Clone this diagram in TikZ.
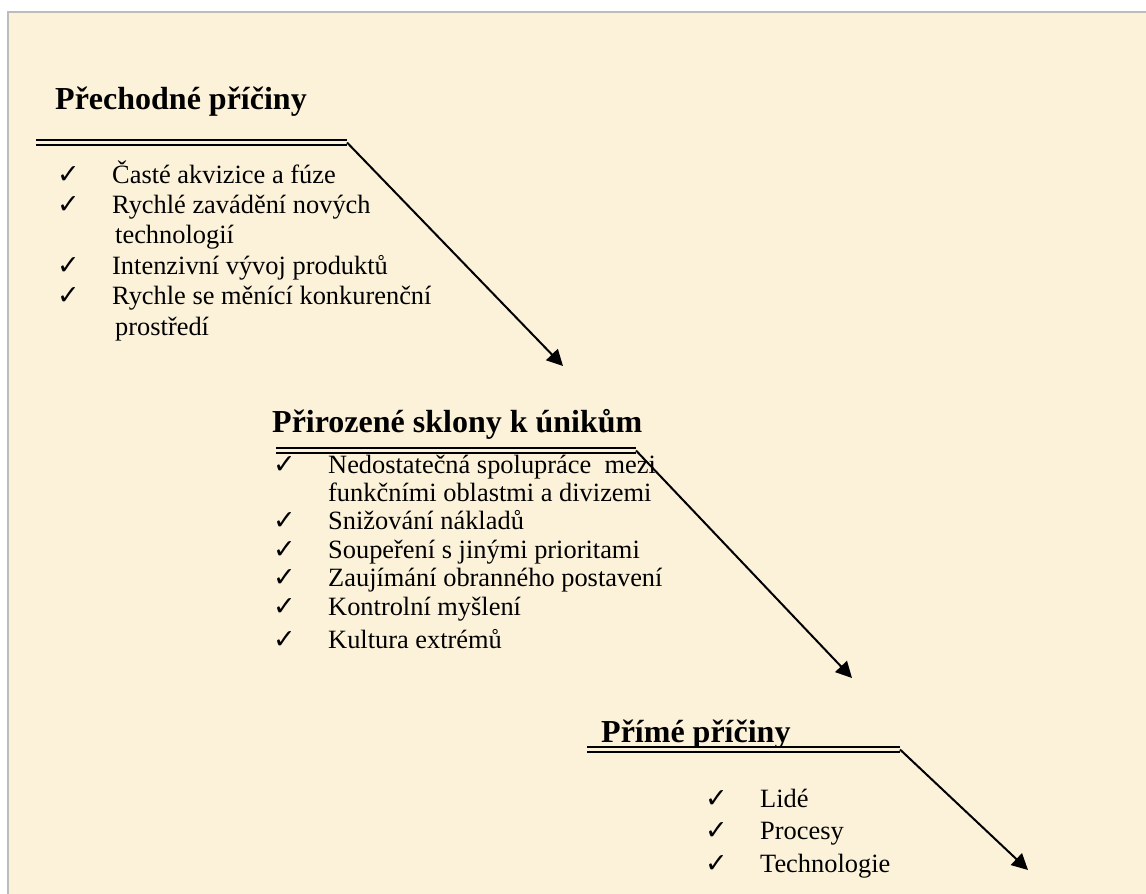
\documentclass[tikz,border=0pt]{standalone}
\usepackage{fontspec}
\setmainfont{Liberation Serif}
\newfontfamily\symfont{DejaVu Sans}
\usetikzlibrary{arrows.meta}
\definecolor{parchment}{RGB}{252,242,218}
\definecolor{framegray}{RGB}{188,188,188}
\newcommand{\chk}{{\symfont\fontsize{27}{27}\selectfont ✓}}

\begin{document}
\begin{tikzpicture}[x=1pt, y=-1pt,
  heading/.style={anchor=base west, inner sep=0pt,
                  font=\fontsize{32}{38}\selectfont\bfseries},
  items/.style={anchor=base west, inner sep=0pt, align=left,
                font=\fontsize{26.4}{30.4}\selectfont},
  rule/.style={double=parchment, double distance=3pt, line width=2pt},
  arr/.style={-{Triangle[length=16pt,width=16pt]}, line width=2pt}
]

\useasboundingbox (0,0) rectangle (1146,894);
\clip (0,0) rectangle (1146,894);
\fill[white] (0,0) rectangle (1146,894);
\filldraw[fill=parchment, draw=framegray, line width=2pt] (8,12) rectangle (1170,920);

%% ===== TOP: transitional causes =====
\node[heading] (h1) at (55,109) {Přechodné příčiny};
\coordinate (r1a) at (36,142.5);
\coordinate (r1b) at (347,142.5);
\draw[rule] (r1a) -- (r1b);

\node[items] (list1) at (57,183) {%
  \begin{tabular}[t]{@{}p{55pt}@{}l@{}}
  \chk & Časté akvizice a fúze\\
  \chk & Rychlé zavádění nových\\
       & \hspace{3pt}technologií\\
  \chk & Intenzivní vývoj produktů\\
  \chk & Rychle se měnící konkurenční\\
       & \hspace{3pt}prostředí
  \end{tabular}};

\coordinate (tip1) at (563,366);
\draw[arr] (r1b) -- (tip1);

%% ===== MIDDLE: natural tendencies =====
\node[heading] (h2) at (272,432) {Přirozené sklony k únikům};
\coordinate (r2a) at (276,450.5);
\coordinate (r2b) at (636,450.5);
\draw[rule] (r2a) -- (r2b);

\node[items, font=\fontsize{26.4}{28.4}\selectfont] (list2) at (273,473) {%
  \begin{tabular}[t]{@{}p{55pt}@{}l@{}}
  \chk & Nedostatečná spolupráce~ mezi\\
       & funkčními oblastmi a divizemi\\
  \chk & Snižování nákladů\\
  \chk & Soupeření s jinými prioritami\\
  \chk & Zaujímání obranného postavení\\
  \chk & Kontrolní myšlení\\[4.6pt]
  \chk & Kultura extrémů
  \end{tabular}};

\coordinate (tip2) at (852,678);
\draw[arr] (r2b) -- (tip2);

%% ===== BOTTOM: direct causes =====
\node[heading] (h3) at (601,742) {Přímé příčiny};
\coordinate (r3a) at (587,749.5);
\coordinate (r3b) at (900,749.5);
\draw[rule] (r3a) -- (r3b);

\node[items, font=\fontsize{26.4}{32.5}\selectfont] (list3) at (705,807) {%
  \begin{tabular}[t]{@{}p{55pt}@{}l@{}}
  \chk & Lidé\\
  \chk & Procesy\\
  \chk & Technologie
  \end{tabular}};

\coordinate (tip3) at (1028,870);
\draw[arr] (r3b) -- (tip3);

\end{tikzpicture}
\end{document}
